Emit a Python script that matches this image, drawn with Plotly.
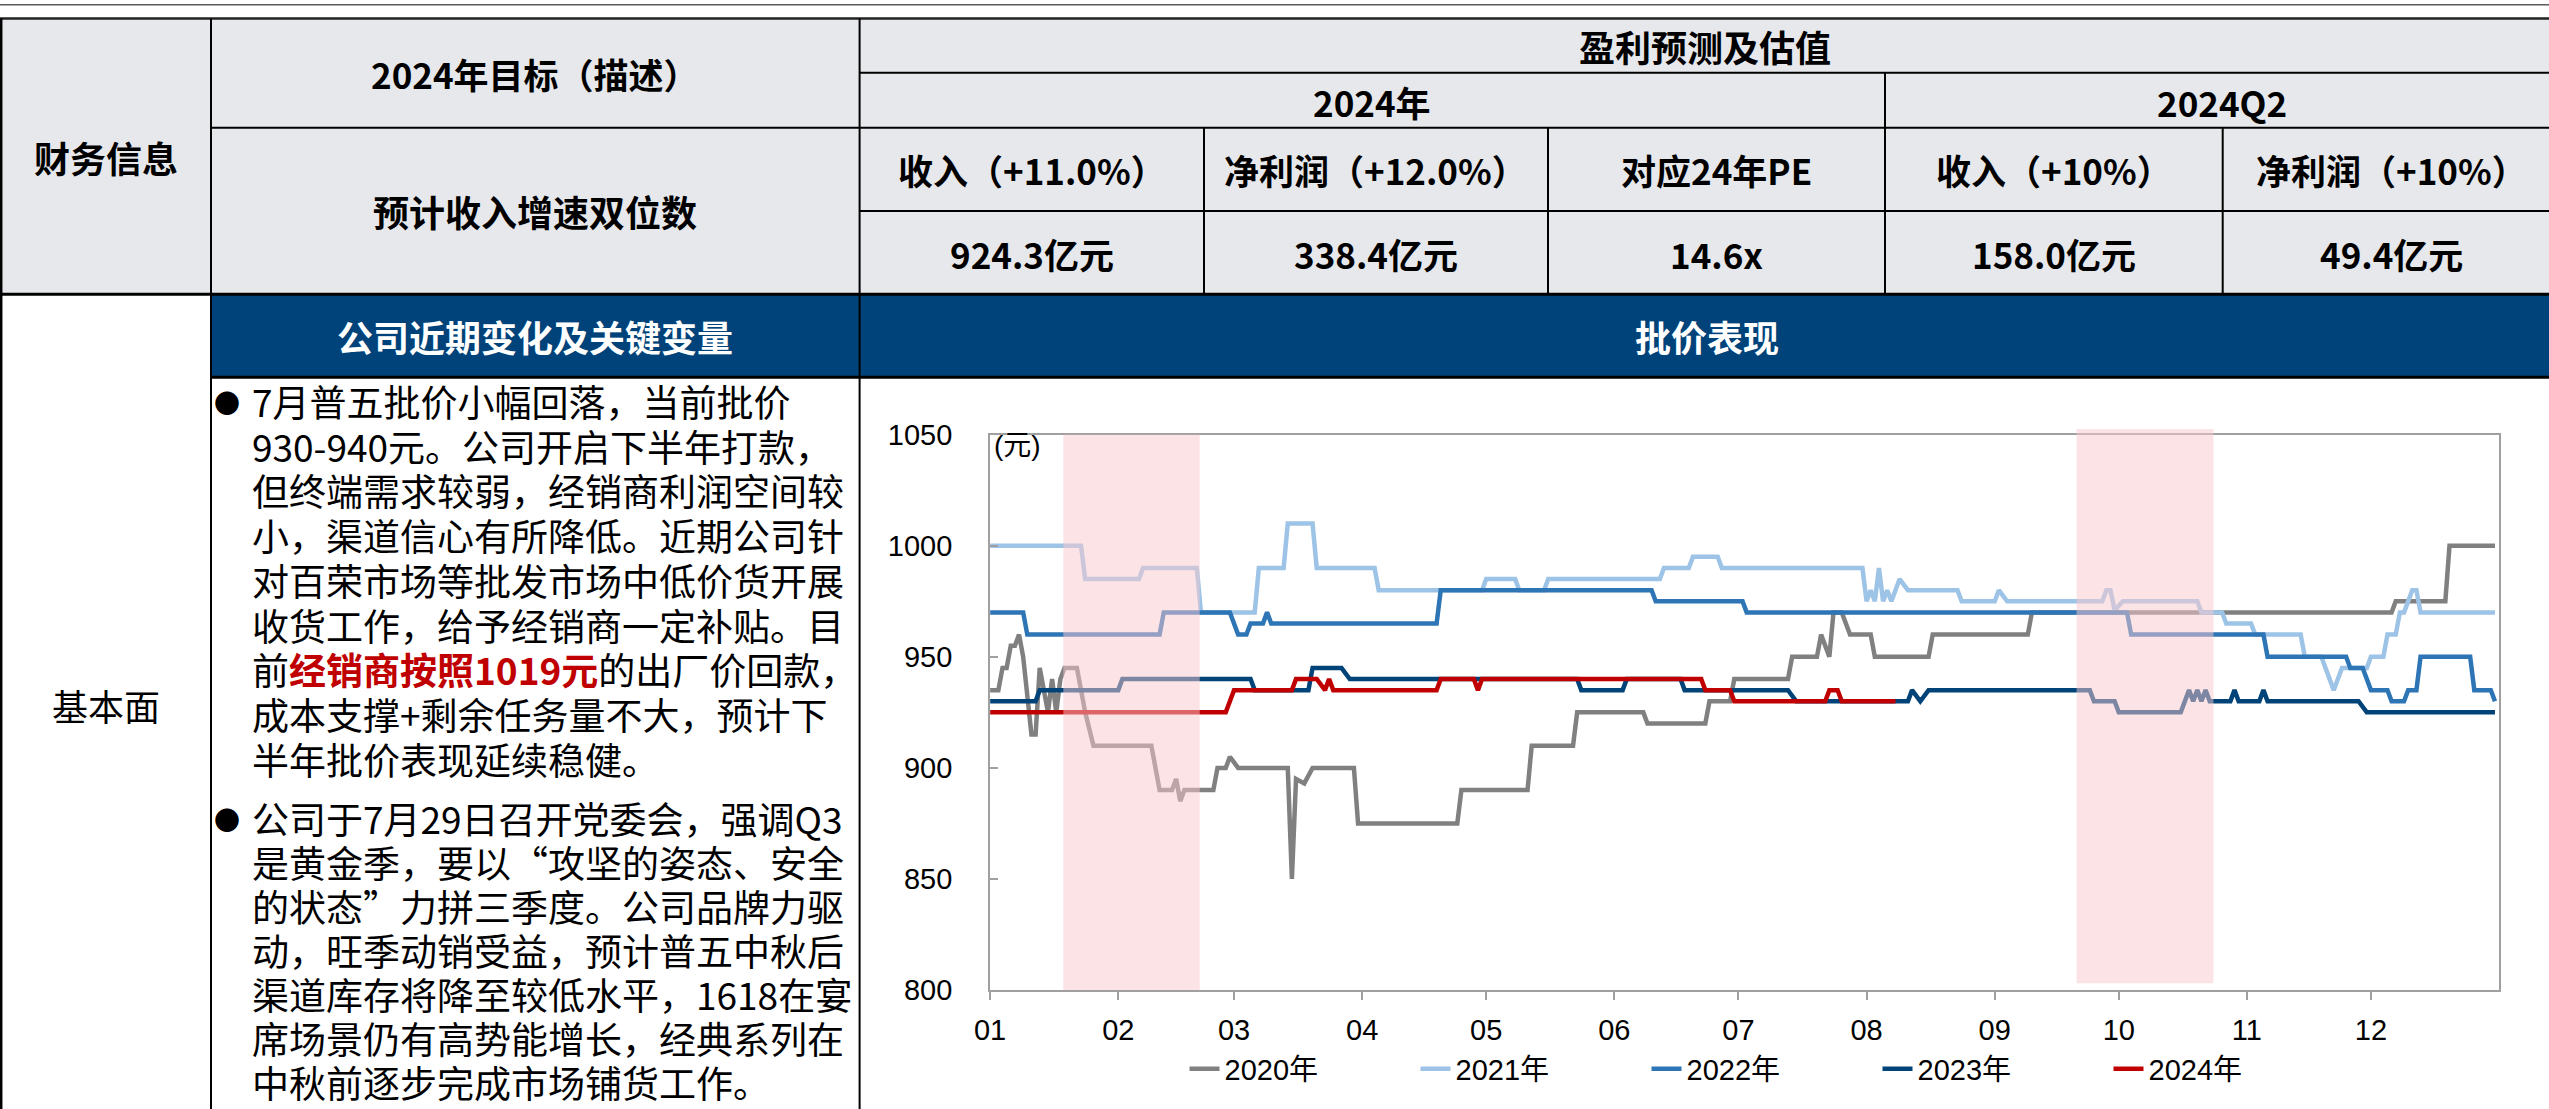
import plotly.graph_objects as go
import pandas as pd

W, H = 2549, 1109

# ---------------- data ----------------
SERIES_NAMES = ["2020年", "2021年", "2022年", "2023年", "2024年"]
SERIES_COLORS = ["#808080", "#9DC3E6", "#2E75B6", "#004379", "#C00000"]

# day of year (0 = Jan 1) and price (元)
DAYS_2020 = [0, 2, 3, 4, 5, 6, 7, 8, 10, 11, 12, 14, 15, 16, 17, 18, 21, 23, 25, 39,
             41, 44, 45, 46, 47, 54, 55, 57, 58, 60, 72, 73, 74, 76, 78, 88, 89, 113, 114, 130,
             131, 141, 142, 158, 159, 173, 174, 179, 180, 193, 194, 200, 201, 203, 204, 206, 208, 213, 214, 227,
             228, 251, 252, 339, 340, 352, 353, 364]
PRICE_2020 = [935, 935, 945, 945, 955, 955, 960, 950, 915, 915, 945, 925, 940, 925, 940, 945, 945, 925, 910, 910,
              890, 890, 895, 885, 890, 890, 900, 900, 905, 900, 900, 850, 895, 893, 900, 900, 875, 875, 890, 890,
              910, 910, 925, 925, 920, 920, 930, 930, 940, 940, 950, 950, 960, 950, 970, 970, 960, 960, 950, 950,
              960, 960, 970, 970, 975, 975, 1000, 1000]

DAYS_2021 = [0, 22, 23, 36, 37, 50, 51, 64, 65, 71, 72, 78, 79, 93, 94, 119, 120, 127, 128, 134,
             135, 162, 163, 169, 170, 176, 177, 211, 212, 213, 214, 215, 216, 217, 218, 220, 222, 234, 235, 243,
             244, 246, 269, 270, 271, 272, 274, 292, 293, 298, 299, 305, 306, 317, 318, 322, 325, 327, 333, 334,
             337, 338, 340, 341, 342, 344, 345, 346, 364]
PRICE_2021 = [1000, 1000, 985, 985, 990, 990, 970, 970, 990, 990, 1010, 1010, 990, 990, 980, 980, 985, 985, 980, 980,
              985, 985, 990, 990, 995, 995, 990, 990, 975, 980, 975, 990, 975, 980, 975, 985, 980, 980, 975, 975,
              980, 975, 975, 980, 980, 971, 975, 975, 970, 970, 965, 965, 960, 960, 950, 950, 935, 945, 945, 950,
              950, 960, 960, 970, 970, 980, 980, 970, 970]

DAYS_2022 = [0, 8, 9, 41, 42, 58, 60, 62, 63, 66, 67, 68, 108, 109, 160, 161, 182, 183, 275, 276,
             308, 309, 328, 329, 332, 334, 338, 339, 342, 343, 345, 346, 358, 359, 363, 364]
PRICE_2022 = [970, 970, 960, 960, 970, 970, 960, 960, 965, 965, 970, 965, 965, 980, 980, 975, 975, 970, 970, 960,
              960, 950, 950, 945, 945, 935, 935, 930, 930, 935, 935, 950, 950, 935, 935, 930]

DAYS_2023 = [0, 11, 12, 31, 32, 63, 64, 77, 78, 85, 87, 142, 143, 153, 154, 167, 168, 193, 195, 222,
             223, 225, 227, 266, 267, 272, 273, 288, 290, 291, 292, 293, 294, 295, 300, 301, 302, 307, 308, 309,
             331, 333, 364]
PRICE_2023 = [930, 930, 935, 935, 940, 940, 935, 935, 945, 945, 940, 940, 935, 935, 940, 940, 935, 935, 930, 930,
              935, 930, 935, 935, 930, 930, 925, 925, 935, 930, 935, 930, 935, 930, 930, 935, 930, 930, 935, 930,
              930, 925, 925]

DAYS_2024 = [0, 57, 59, 73, 74, 79, 81, 82, 83, 108, 109, 117, 118, 119, 172, 173, 179, 180, 202, 203, 205, 206, 219]
PRICE_2024 = [925, 925, 935, 935, 940, 940, 935, 940, 935, 935, 940, 940, 935, 940, 940, 935, 935, 930, 930, 935,
              935, 930, 930]

MONTH_LABELS = ["01", "02", "03", "04", "05", "06", "07", "08", "09", "10", "11", "12"]
Y_TICKS = [800, 850, 900, 950, 1000, 1050]

# shaded periods (festival windows)
HIGHLIGHT_START = ["2023-01-18 17:00", "2023-09-20 19:00"]
HIGHLIGHT_END = ["2023-02-20 17:00", "2023-10-23 22:00"]

# table texts
FIN_TITLE = "财务信息"
TARGET_HEAD = "2024年目标（描述）"
TARGET_TEXT = "预计收入增速双位数"
FORECAST_HEAD = "盈利预测及估值"
PERIOD_HEADS = ["2024年", "2024Q2"]
METRIC_HEADS = ["收入（+11.0%）", "净利润（+12.0%）", "对应24年PE", "收入（+10%）", "净利润（+10%）"]
METRIC_VALUES = ["924.3亿元", "338.4亿元", "14.6x", "158.0亿元", "49.4亿元"]
LEFT_BANNER = "公司近期变化及关键变量"
RIGHT_BANNER = "批价表现"
SECTION_LABEL = "基本面"
BULLET1 = ["7月普五批价小幅回落，当前批价",
           "930-940元。公司开启下半年打款，",
           "但终端需求较弱，经销商利润空间较",
           "小，渠道信心有所降低。近期公司针",
           "对百荣市场等批发市场中低价货开展",
           "收货工作，给予经销商一定补贴。目",
           "前<span style='color:#C00000'><b>经销商按照1019元</b></span>的出厂价回款，",
           "成本支撑+剩余任务量不大，预计下",
           "半年批价表现延续稳健。"]
BULLET2 = ["公司于7月29日召开党委会，强调Q3",
           "是黄金季，要以“攻坚的姿态、安全",
           "的状态”力拼三季度。公司品牌力驱",
           "动，旺季动销受益，预计普五中秋后",
           "渠道库存将降至较低水平，1618在宴",
           "席场景仍有高势能增长，经典系列在",
           "中秋前逐步完成市场铺货工作。"]

# ---------------- helpers ----------------
CJK = "Noto Sans CJK SC"
LAT = "Liberation Sans, Arial, Noto Sans CJK SC"
BASE = pd.Timestamp("2023-01-01")


def px(x):
    return x / W


def py(y):
    return 1 - y / H


def to_dates(days):
    return [BASE + pd.Timedelta(days=d) for d in days]


fig = go.Figure()

series_days = [DAYS_2020, DAYS_2021, DAYS_2022, DAYS_2023, DAYS_2024]
series_vals = [PRICE_2020, PRICE_2021, PRICE_2022, PRICE_2023, PRICE_2024]
for name, color, d, v in zip(SERIES_NAMES, SERIES_COLORS, series_days, series_vals):
    fig.add_trace(go.Scatter(x=to_dates(d), y=v, mode="lines", name=name,
                             line=dict(color=color, width=4.5)))

shapes = []
annotations = []

# ---------- table backgrounds ----------
GRAY = "#E7E8EC"
NAVY = "#00437A"
shapes.append(dict(type="rect", xref="paper", yref="paper", x0=px(0), x1=px(W), y0=py(294), y1=py(18.5),
                   fillcolor=GRAY, line=dict(width=0), layer="below"))
shapes.append(dict(type="rect", xref="paper", yref="paper", x0=px(211), x1=px(W), y0=py(377), y1=py(294),
                   fillcolor=NAVY, line=dict(width=0), layer="below"))


def hline(y, x0, x1, w=2.0, c="#000000"):
    shapes.append(dict(type="line", xref="paper", yref="paper", x0=px(x0), x1=px(x1), y0=py(y), y1=py(y),
                       line=dict(color=c, width=w)))


def vline(x, y0, y1, w=2.0, c="#000000"):
    shapes.append(dict(type="line", xref="paper", yref="paper", x0=px(x), x1=px(x), y0=py(y0), y1=py(y1),
                       line=dict(color=c, width=w)))


hline(4.7, 0, W, 1.5, "#5A5A5A")
hline(18.5, 0, W, 2.5, "#222222")
hline(72.7, 859.6, W)
hline(127.7, 211, W)
hline(211, 859.6, W)
hline(294.3, 0, W, 3)
hline(377.3, 211, W, 3)
vline(1.2, 18.5, H, 2.5)
vline(211, 18.5, H)
vline(859.6, 18.5, H)
vline(1885, 72.7, 294.3)
for xc in [1204, 1548, 2222.7]:
    vline(xc, 127.7, 294.3)


def text(x, y, s, size=36, color="#000000", bold=False, anchor="center", family=CJK, align="center"):
    if bold:
        s = "<b>" + s + "</b>"
    annotations.append(dict(x=px(x), y=py(y), xref="paper", yref="paper", text=s, showarrow=False,
                            xanchor=anchor, yanchor="middle", align=align,
                            font=dict(family=family, size=size, color=color)))


text(106, 157, FIN_TITLE, 36, bold=True)
text(535, 73, TARGET_HEAD, 35, bold=True)
text(535, 211, TARGET_TEXT, 36, bold=True)
text(1705, 46, FORECAST_HEAD, 36, bold=True)
text(1372, 101, PERIOD_HEADS[0], 35, bold=True)
text(2222, 101, PERIOD_HEADS[1], 35, bold=True)
col_centers = [1032, 1376, 1716, 2054, 2391]
for xc, h, v in zip(col_centers, METRIC_HEADS, METRIC_VALUES):
    text(xc, 170, h, 35, bold=True)
    text(xc, 253, v, 35, bold=True)
text(535, 336, LEFT_BANNER, 36, color="#FFFFFF", bold=True)
text(1707, 336, RIGHT_BANNER, 36, color="#FFFFFF", bold=True)
text(106, 705, SECTION_LABEL, 36)

# bullet paragraphs, one annotation per printed line
for block, first_y, step in ((BULLET1, 401, 44.7), (BULLET2, 818, 44.0)):
    text(227, first_y, "●", 26)
    for i, line in enumerate(block):
        text(250, first_y + i * step, line, 37, anchor="left", align="left")

# ---------- chart decorations ----------
for s, e, top, bot in zip(HIGHLIGHT_START, HIGHLIGHT_END, [434.7, 429], [990, 983.3]):
    shapes.append(dict(type="rect", xref="x", yref="paper", x0=s, x1=e, y0=py(bot), y1=py(top),
                       fillcolor="rgba(249,201,205,0.5)", line=dict(width=0), layer="above"))

annotations.append(dict(x=px(992), y=py(428), xref="paper", yref="paper", text="(元)", showarrow=False,
                        xanchor="left", yanchor="top", font=dict(family=LAT, size=28, color="#000000")))

month_starts = pd.date_range("2023-01-01", periods=12, freq="MS")

fig.update_layout(
    width=W, height=H,
    margin=dict(l=0, r=0, t=0, b=0, pad=0, autoexpand=False),
    paper_bgcolor="#FFFFFF", plot_bgcolor="#FFFFFF",
    shapes=shapes, annotations=annotations,
    xaxis=dict(domain=[px(990.1), px(2499.1)], type="date", automargin=False,
               range=[BASE, BASE + pd.Timedelta(days=365)],
               tickvals=list(month_starts), ticktext=MONTH_LABELS,
               ticks="outside", ticklen=8, tickwidth=1.5, tickcolor="#A0A0A0",
               showline=True, linecolor="#A0A0A0", linewidth=2, mirror=True,
               showgrid=False, zeroline=False, ticklabelstandoff=5,
               tickfont=dict(family=LAT, size=29, color="#000000")),
    yaxis=dict(domain=[py(990), py(434.7)], range=[800, 1050], tickvals=Y_TICKS, automargin=False,
               ticks="inside", ticklen=8, tickwidth=1.5, tickcolor="#A0A0A0",
               showline=True, linecolor="#A0A0A0", linewidth=2, mirror=True,
               showgrid=False, zeroline=False, ticklabelstandoff=30,
               tickfont=dict(family=LAT, size=29, color="#000000")),
    legend=dict(orientation="h", x=px(1762), xanchor="center", y=py(1069), yanchor="middle",
                font=dict(family=LAT, size=29, color="#000000"),
                entrywidth=186, entrywidthmode="pixels", bgcolor="rgba(0,0,0,0)"),
    showlegend=True,
)

# remove the default page margin so the figure fills the window exactly
POST_JS = ("document.documentElement.style.margin='0';document.body.style.margin='0';"
           "document.body.style.padding='0';document.documentElement.style.overflow='hidden';"
           "document.body.style.overflow='hidden';")

fig.write_html("out.html", config={"displayModeBar": False}, post_script=POST_JS)
